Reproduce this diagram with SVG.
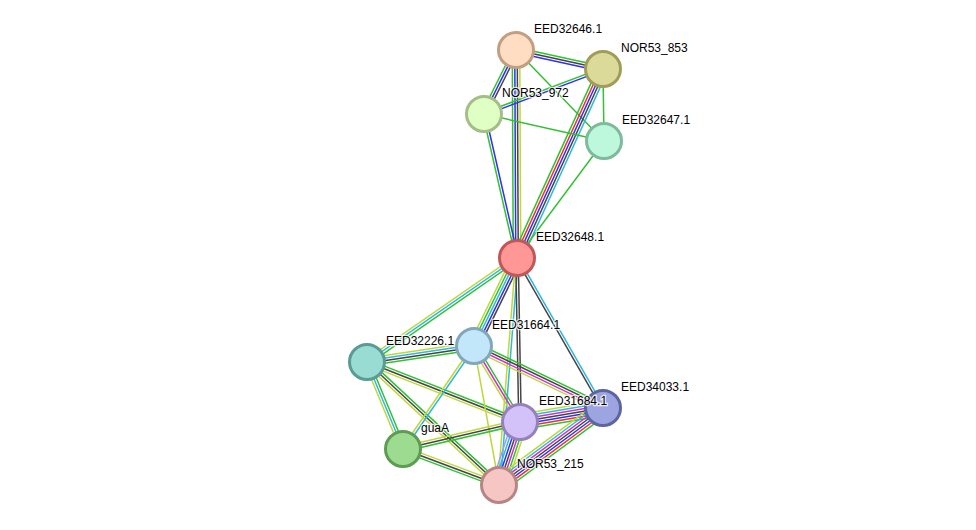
<svg xmlns="http://www.w3.org/2000/svg" width="976" height="530" viewBox="0 0 976 530">
  <style>
    #edges line { stroke-width: 1.5; fill: none; }
    .gr { stroke: #33C033; }
    .bl { stroke: #3030F0; }
    .bk { stroke: #454545; }
    .rd { stroke: #F03030; }
    .cy { stroke: #30B8E0; }
    .yg { stroke: #BED83A; }
    .mg { stroke: #D030D0; }
    .lv { stroke: #9C9CF8; }
    .node circle { stroke-width: 3; }
    .node text {
      font-family: "Liberation Sans", Arial, sans-serif;
      font-size: 12px;
      fill: #000;
      stroke: #fff;
      stroke-width: 2.5;
      stroke-opacity: 0.75;
      paint-order: stroke;
    }
  </style>
  <rect width="976" height="530" fill="#fff"/>

  <!-- connectors: each bundle is drawn along +x in a rotated frame from one node centre -->
  <g id="edges">
    <!-- EED32646.1 - NOR53_853 -->
    <g transform="translate(516,50) rotate(12.32)">
      <line class="gr" x2="89.05" y1="-2.5" y2="-2.5"/>
      <line class="bk" x2="89.05" y1="0" y2="0"/>
      <line class="bl" x2="89.05" y1="2.5" y2="2.5"/>
    </g>
    <!-- EED32646.1 - NOR53_972 -->
    <g transform="translate(516,50) rotate(116.57)">
      <line class="bk" x2="71.55" y1="-2.5" y2="-2.5"/>
      <line class="bl" x2="71.55" y1="0" y2="0"/>
      <line class="gr" x2="71.55" y1="2.5" y2="2.5"/>
    </g>
    <!-- EED32646.1 - EED32648.1 -->
    <g transform="translate(516,50) rotate(89.72)">
      <line class="yg" x2="208" y1="-3.75" y2="-3.75"/>
      <line class="bk" x2="208" y1="-1.25" y2="-1.25"/>
      <line class="bl" x2="208" y1="1.25" y2="1.25"/>
      <line class="gr" x2="208" y1="3.75" y2="3.75"/>
    </g>
    <!-- EED32646.1 - EED32647.1 -->
    <g transform="translate(516,50) rotate(45.96)">
      <line class="gr" x2="126.6"/>
    </g>
    <!-- NOR53_853 - NOR53_972 -->
    <g transform="translate(603,69) rotate(159.29)">
      <line class="bl" x2="127.2" y1="-1.25" y2="-1.25"/>
      <line class="gr" x2="127.2" y1="1.25" y2="1.25"/>
    </g>
    <!-- NOR53_853 - EED32647.1 -->
    <g transform="translate(603,69) rotate(89.2)">
      <line class="gr" x2="72"/>
    </g>
    <!-- NOR53_853 - EED32648.1 -->
    <g transform="translate(603,69) rotate(114.47)">
      <line class="cy" x2="207.65" y1="-5" y2="-5"/>
      <line class="bk" x2="207.65" y1="-2.5" y2="-2.5"/>
      <line class="bl" x2="207.65" y1="0" y2="0"/>
      <line class="rd" x2="207.65" y1="2.5" y2="2.5"/>
      <line class="gr" x2="207.65" y1="5" y2="5"/>
    </g>
    <!-- NOR53_972 - EED32647.1 -->
    <g transform="translate(484,114) rotate(12.68)">
      <line class="gr" x2="123"/>
    </g>
    <!-- NOR53_972 - EED32648.1 -->
    <g transform="translate(484,114) rotate(77.09)">
      <line class="bl" x2="147.7" y1="-1.25" y2="-1.25"/>
      <line class="gr" x2="147.7" y1="1.25" y2="1.25"/>
    </g>
    <!-- EED32647.1 - EED32648.1 -->
    <g transform="translate(604,141) rotate(126.64)">
      <line class="gr" x2="145.8"/>
    </g>
    <!-- EED32648.1 - EED32226.1 -->
    <g transform="translate(517,258) rotate(145.27)">
      <line class="gr" x2="182.5" y1="-2.5" y2="-2.5"/>
      <line class="cy" x2="182.5" y1="0" y2="0"/>
      <line class="yg" x2="182.5" y1="2.5" y2="2.5"/>
    </g>
    <!-- EED32648.1 - EED31664.1 -->
    <g transform="translate(517,258) rotate(116.04)">
      <line class="bk" x2="97.9" y1="-5" y2="-5"/>
      <line class="bl" x2="97.9" y1="-2.5" y2="-2.5"/>
      <line class="cy" x2="97.9" y1="0" y2="0"/>
      <line class="gr" x2="97.9" y1="2.5" y2="2.5"/>
      <line class="yg" x2="97.9" y1="5" y2="5"/>
    </g>
    <!-- EED32648.1 - NOR53_215 -->
    <g transform="translate(517,258) rotate(94.53)">
      <line class="cy" x2="227.7" y1="-1.25" y2="-1.25"/>
      <line class="yg" x2="227.7" y1="1.25" y2="1.25"/>
    </g>
    <!-- EED32648.1 - EED31684.1 -->
    <g transform="translate(517,258) rotate(88.95)">
      <line class="bk" x2="164" y1="-1.25" y2="-1.25"/>
      <line class="bk" x2="164" y1="1.25" y2="1.25"/>
    </g>
    <!-- EED32648.1 - EED34033.1 -->
    <g transform="translate(517,258) rotate(60.17)">
      <line class="cy" x2="172.9" y1="-1.25" y2="-1.25"/>
      <line class="bk" x2="172.9" y1="1.25" y2="1.25"/>
    </g>
    <!-- EED31664.1 - EED32226.1 -->
    <g transform="translate(474,346) rotate(171.5)">
      <line class="gr" x2="108.2" y1="-3.75" y2="-3.75"/>
      <line class="bk" x2="108.2" y1="-1.25" y2="-1.25"/>
      <line class="cy" x2="108.2" y1="1.25" y2="1.25"/>
      <line class="yg" x2="108.2" y1="3.75" y2="3.75"/>
    </g>
    <!-- EED32226.1 - EED31684.1 -->
    <g transform="translate(367,362) rotate(21.41)">
      <line class="gr" x2="164.3" y1="-2.5" y2="-2.5"/>
      <line class="bk" x2="164.3" y1="0" y2="0"/>
      <line class="yg" x2="164.3" y1="2.5" y2="2.5"/>
    </g>
    <!-- EED32226.1 - guaA -->
    <g transform="translate(367,362) rotate(67.52)">
      <line class="gr" x2="94.15" y1="-2.5" y2="-2.5"/>
      <line class="cy" x2="94.15" y1="0" y2="0"/>
      <line class="yg" x2="94.15" y1="2.5" y2="2.5"/>
    </g>
    <!-- EED32226.1 - NOR53_215 -->
    <g transform="translate(367,362) rotate(42.98)">
      <line class="gr" x2="180.4" y1="-2.5" y2="-2.5"/>
      <line class="bk" x2="180.4" y1="0" y2="0"/>
      <line class="yg" x2="180.4" y1="2.5" y2="2.5"/>
    </g>
    <!-- EED31664.1 - EED31684.1 -->
    <g transform="translate(474,346) rotate(58.81)">
      <line class="gr" x2="88.84" y1="-2.5" y2="-2.5"/>
      <line class="mg" x2="88.84" y1="0" y2="0"/>
      <line class="yg" x2="88.84" y1="2.5" y2="2.5"/>
    </g>
    <!-- EED31664.1 - EED34033.1 -->
    <g transform="translate(474,346) rotate(25.67)">
      <line class="gr" x2="143.1" y1="-3.75" y2="-3.75"/>
      <line class="bk" x2="143.1" y1="-1.25" y2="-1.25"/>
      <line class="mg" x2="143.1" y1="1.25" y2="1.25"/>
      <line class="yg" x2="143.1" y1="3.75" y2="3.75"/>
    </g>
    <!-- EED31664.1 - NOR53_215 -->
    <g transform="translate(474,346) rotate(79.8)">
      <line class="yg" x2="141.2"/>
    </g>
    <!-- EED31664.1 - guaA -->
    <g transform="translate(474,346) rotate(124.58)">
      <line class="cy" x2="125.1" y1="-1.25" y2="-1.25"/>
      <line class="yg" x2="125.1" y1="1.25" y2="1.25"/>
    </g>
    <!-- guaA - EED31684.1 -->
    <g transform="translate(403,449) rotate(-12.99)">
      <line class="yg" x2="120.1" y1="-2.5" y2="-2.5"/>
      <line class="bk" x2="120.1" y1="0" y2="0"/>
      <line class="gr" x2="120.1" y1="2.5" y2="2.5"/>
    </g>
    <!-- guaA - NOR53_215 -->
    <g transform="translate(403,449) rotate(20.56)">
      <line class="yg" x2="102.5" y1="-2.5" y2="-2.5"/>
      <line class="bk" x2="102.5" y1="0" y2="0"/>
      <line class="gr" x2="102.5" y1="2.5" y2="2.5"/>
    </g>
    <!-- EED31684.1 - EED34033.1 -->
    <g transform="translate(520,422) rotate(-9.57)">
      <line class="yg" x2="84.17" y1="-7.5" y2="-7.5"/>
      <line class="cy" x2="84.17" y1="-5" y2="-5"/>
      <line class="mg" x2="84.17" y1="-2.5" y2="-2.5"/>
      <line class="bk" x2="84.17" y1="0" y2="0"/>
      <line class="bl" x2="84.17" y1="2.5" y2="2.5"/>
      <line class="rd" x2="84.17" y1="5" y2="5"/>
      <line class="gr" x2="84.17" y1="7.5" y2="7.5"/>
    </g>
    <!-- EED31684.1 - NOR53_215 -->
    <g transform="translate(520,422) rotate(108.43)">
      <line class="yg" x2="66.41" y1="-7.5" y2="-7.5"/>
      <line class="gr" x2="66.41" y1="-5" y2="-5"/>
      <line class="mg" x2="66.41" y1="-2.5" y2="-2.5"/>
      <line class="bk" x2="66.41" y1="0" y2="0"/>
      <line class="bl" x2="66.41" y1="2.5" y2="2.5"/>
      <line class="cy" x2="66.41" y1="5" y2="5"/>
      <line class="lv" x2="66.41" y1="7.5" y2="7.5"/>
    </g>
    <!-- EED34033.1 - NOR53_215 -->
    <g transform="translate(603,408) rotate(143.49)">
      <line class="gr" x2="129.4" y1="-7.5" y2="-7.5"/>
      <line class="rd" x2="129.4" y1="-5" y2="-5"/>
      <line class="bl" x2="129.4" y1="-2.5" y2="-2.5"/>
      <line class="bk" x2="129.4" y1="0" y2="0"/>
      <line class="mg" x2="129.4" y1="2.5" y2="2.5"/>
      <line class="cy" x2="129.4" y1="5" y2="5"/>
      <line class="yg" x2="129.4" y1="7.5" y2="7.5"/>
    </g>
  </g>

  <!-- nodes -->
  <g id="EED32646.1" class="node">
    <circle cx="516" cy="50" r="17.5" fill="#FFDDC2" stroke="#C29E82"/>
    <text x="534" y="33">EED32646.1</text>
  </g>
  <g id="NOR53_853" class="node">
    <circle cx="603" cy="69" r="17.5" fill="#DCDA99" stroke="#9F9D59"/>
    <text x="621" y="52">NOR53_853</text>
  </g>
  <g id="NOR53_972" class="node">
    <circle cx="484" cy="114" r="17.5" fill="#E0FFC4" stroke="#A3BE86"/>
    <text x="502" y="97">NOR53_972</text>
  </g>
  <g id="EED32647.1" class="node">
    <circle cx="604" cy="141" r="17.5" fill="#BDF8DC" stroke="#7EBA9C"/>
    <text x="622" y="124">EED32647.1</text>
  </g>
  <g id="EED32648.1" class="node">
    <circle cx="517" cy="258" r="17.5" fill="#FF9797" stroke="#C05858"/>
    <text x="536" y="241">EED32648.1</text>
  </g>
  <g id="EED31664.1" class="node">
    <circle cx="474" cy="346" r="17.5" fill="#C2E7FA" stroke="#82A7BB"/>
    <text x="492" y="329">EED31664.1</text>
  </g>
  <g id="EED32226.1" class="node">
    <circle cx="367" cy="362" r="17.5" fill="#98DCD4" stroke="#5A9C94"/>
    <text x="386" y="345">EED32226.1</text>
  </g>
  <g id="EED34033.1" class="node">
    <circle cx="603" cy="408" r="17.5" fill="#9CA5E0" stroke="#5C65A0"/>
    <text x="621" y="391">EED34033.1</text>
  </g>
  <g id="EED31684.1" class="node">
    <circle cx="520" cy="422" r="17.5" fill="#D3C2FA" stroke="#9382BB"/>
    <text x="539" y="405">EED31684.1</text>
  </g>
  <g id="guaA" class="node">
    <circle cx="403" cy="449" r="17.5" fill="#9DDC90" stroke="#5D9C52"/>
    <text x="421" y="432">guaA</text>
  </g>
  <g id="NOR53_215" class="node">
    <circle cx="499" cy="485" r="17.5" fill="#F6C6C4" stroke="#B68684"/>
    <text x="517" y="468">NOR53_215</text>
  </g>
</svg>
